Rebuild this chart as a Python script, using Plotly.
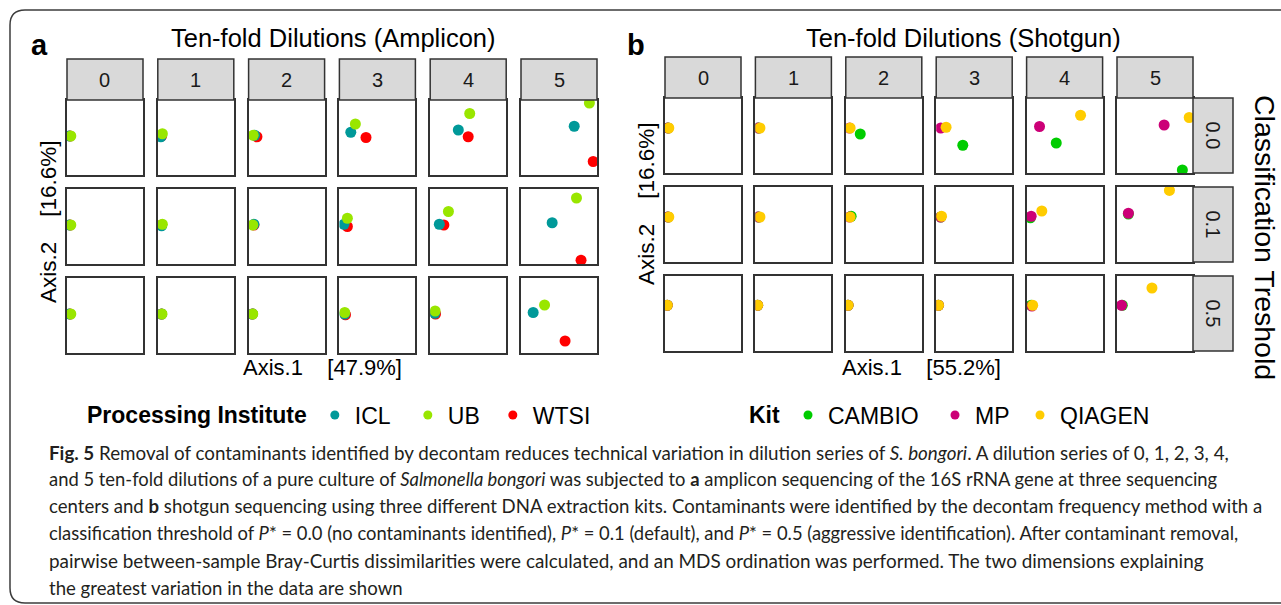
import plotly.graph_objects as go

W, H = 1281, 605

# ---------------- data (positions inside each panel, Axis.1 / Axis.2 scaled 0..1) ----------------
dilutions = ["0", "1", "2", "3", "4", "5"]
thresholds = ["0.0", "0.1", "0.5"]

institutes = ["ICL", "UB", "WTSI"]
kits = ["CAMBIO", "MP", "QIAGEN"]

# Amplicon (panel a): rows = threshold 0.0, 0.1, 0.5 ; cols = dilution 0..5
ICL_X = [[0.03, 0.04, 0.08, 0.15, 0.37, 0.70],
         [0.03, 0.05, 0.07, 0.06, 0.12, 0.41],
         [0.03, 0.05, 0.05, 0.07, 0.06, 0.16]]
ICL_Y = [[0.52, 0.51, 0.53, 0.57, 0.60, 0.65],
         [0.52, 0.51, 0.53, 0.53, 0.53, 0.55],
         [0.52, 0.52, 0.52, 0.52, 0.53, 0.54]]
UB_X = [[0.05, 0.06, 0.06, 0.21, 0.52, 0.90],
        [0.05, 0.06, 0.055, 0.105, 0.24, 0.73],
        [0.05, 0.055, 0.055, 0.07, 0.065, 0.31]]
UB_Y = [[0.52, 0.55, 0.53, 0.68, 0.82, 0.96],
        [0.52, 0.53, 0.52, 0.61, 0.70, 0.88],
        [0.52, 0.52, 0.52, 0.54, 0.56, 0.64]]
WTSI_X = [[0.04, 0.05, 0.11, 0.35, 0.50, 0.95],
          [0.04, 0.05, 0.07, 0.105, 0.18, 0.79],
          [0.04, 0.05, 0.05, 0.08, 0.07, 0.58]]
WTSI_Y = [[0.52, 0.52, 0.51, 0.50, 0.51, 0.18],
          [0.52, 0.52, 0.52, 0.50, 0.52, 0.05],
          [0.52, 0.52, 0.52, 0.51, 0.52, 0.16]]

# Shotgun (panel b)
CAMBIO_X = [[0.04, 0.04, 0.19, 0.35, 0.39, 0.86],
            [0.04, 0.04, 0.07, 0.06, 0.05, 0.15],
            [0.03, 0.03, 0.03, 0.03, 0.06, 0.07]]
CAMBIO_Y = [[0.60, 0.60, 0.52, 0.37, 0.40, 0.04],
            [0.60, 0.60, 0.61, 0.60, 0.59, 0.64],
            [0.61, 0.61, 0.61, 0.61, 0.61, 0.61]]
MP_X = [[0.04, 0.04, 0.05, 0.06, 0.17, 0.62],
        [0.04, 0.04, 0.05, 0.06, 0.06, 0.15],
        [0.03, 0.03, 0.03, 0.03, 0.07, 0.06]]
MP_Y = [[0.60, 0.60, 0.60, 0.60, 0.62, 0.64],
        [0.60, 0.60, 0.60, 0.60, 0.61, 0.65],
        [0.61, 0.61, 0.61, 0.61, 0.60, 0.61]]
QIAGEN_X = [[0.05, 0.06, 0.057, 0.13, 0.71, 0.95],
            [0.05, 0.06, 0.057, 0.07, 0.20, 0.69],
            [0.03, 0.03, 0.03, 0.03, 0.08, 0.46]]
QIAGEN_Y = [[0.60, 0.60, 0.60, 0.61, 0.77, 0.74],
            [0.60, 0.60, 0.60, 0.61, 0.68, 0.955],
            [0.61, 0.61, 0.61, 0.61, 0.61, 0.84]]

COLORS = {"ICL": "#009999", "UB": "#99E600", "WTSI": "#FF0000",
          "CAMBIO": "#00CC00", "MP": "#CC0077", "QIAGEN": "#FFCC00"}

# ---------------- layout geometry (pixels) ----------------
PANEL_W, PANEL_H = 76, 75
A_X0, A_DX = 67, 90.8
B_X0, B_DX = 665, 90.4
A_ROWS = [100, 189, 278]
B_ROWS = [98, 187, 276]
STRIP = 41

def px(x):
    return x / W

def py(y):
    return 1 - y / H

FONT = "Liberation Sans, Arial, sans-serif"
fig = go.Figure()
layout = dict(width=W, height=H, margin=dict(l=0, r=0, t=0, b=0),
              paper_bgcolor="white", plot_bgcolor="white", showlegend=True)
shapes, annotations = [], []

panels = [
    dict(x0=A_X0, dx=A_DX, rows=A_ROWS,
         series=[("WTSI", WTSI_X, WTSI_Y), ("ICL", ICL_X, ICL_Y), ("UB", UB_X, UB_Y)],
         right_strip=False),
    dict(x0=B_X0, dx=B_DX, rows=B_ROWS,
         series=[("CAMBIO", CAMBIO_X, CAMBIO_Y), ("MP", MP_X, MP_Y), ("QIAGEN", QIAGEN_X, QIAGEN_Y)],
         right_strip=True),
]

k = 0
for p in panels:
    for r in range(3):
        for c in range(6):
            k += 1
            xs = p["x0"] + c * p["dx"]
            ys = p["rows"][r]
            sfx = "" if k == 1 else str(k)
            axis_style = dict(range=[0, 1], showticklabels=False, showgrid=False,
                              zeroline=False, showline=True, mirror=True,
                              linecolor="#333333", linewidth=2, ticks="", fixedrange=True)
            layout["xaxis" + sfx] = dict(axis_style, domain=[px(xs), px(xs + PANEL_W)], anchor="y" + sfx)
            layout["yaxis" + sfx] = dict(axis_style, domain=[py(ys + PANEL_H), py(ys)], anchor="x" + sfx)
            for name, X, Y in p["series"]:
                fig.add_trace(go.Scatter(x=[X[r][c]], y=[Y[r][c]], mode="markers",
                                         xaxis="x" + sfx, yaxis="y" + sfx,
                                         marker=dict(size=11, color=COLORS[name], line=dict(width=0)),
                                         showlegend=False, hoverinfo="skip", cliponaxis=True))
            # top strips
            if r == 0:
                shapes.append(dict(type="rect", xref="paper", yref="paper",
                                   x0=px(xs), x1=px(xs + PANEL_W), y0=py(ys), y1=py(ys - STRIP),
                                   fillcolor="#D9D9D9", line=dict(color="#333333", width=1.5)))
                annotations.append(dict(text=dilutions[c], xref="paper", yref="paper",
                                        x=px(xs + PANEL_W / 2), y=py(ys - STRIP / 2),
                                        xanchor="center", yanchor="middle",
                                        showarrow=False, font=dict(family=FONT, size=20, color="#1A1A1A")))
            # right strips
            if p["right_strip"] and c == 5:
                shapes.append(dict(type="rect", xref="paper", yref="paper",
                                   x0=px(xs + PANEL_W), x1=px(xs + PANEL_W + STRIP - 1),
                                   y0=py(ys + PANEL_H), y1=py(ys),
                                   fillcolor="#D9D9D9", line=dict(color="#333333", width=1.5)))
                annotations.append(dict(text=thresholds[r], xref="paper", yref="paper",
                                        x=px(xs + PANEL_W + (STRIP - 1) / 2), y=py(ys + PANEL_H / 2),
                                        xanchor="center", yanchor="middle",
                                        textangle=90, showarrow=False,
                                        font=dict(family=FONT, size=20, color="#1A1A1A")))

# legend-only traces (legend entries, no data)
LEGEND_WIDTHS = {"ICL": 48, "UB": 40, "WTSI": 60, "CAMBIO": 102, "MP": 40, "QIAGEN": 100}
rank = 1
for lg, names in (("legend", institutes), ("legend2", kits)):
    for name in names:
        fig.add_trace(go.Scatter(x=[None], y=[None], mode="markers", name=name, legend=lg,
                                 marker=dict(size=9, color=COLORS[name]), showlegend=True,
                                 legendrank=rank, legendwidth=LEGEND_WIDTHS[name], hoverinfo="skip"))
        rank += 1

legend_common = dict(orientation="h", yanchor="middle", xanchor="left", bgcolor="rgba(0,0,0,0)",
                     font=dict(family=FONT, size=23, color="black"), itemsizing="trace",
                     traceorder="normal", itemclick=False)
layout["legend"] = dict(legend_common, x=px(85), y=py(415),
                        title=dict(text="<b>Processing Institute</b>", side="left",
                                   font=dict(family=FONT, size=23, color="black")))
layout["legend2"] = dict(legend_common, x=px(747), y=py(415),
                         title=dict(text="<b>Kit</b>", side="left",
                                    font=dict(family=FONT, size=23, color="black")))

# titles and labels
def ann(text, x, y, size, angle=0, bold=False, family=FONT, xanchor="center", color="black"):
    annotations.append(dict(text=("<b>%s</b>" % text) if bold else text, xref="paper", yref="paper",
                            x=px(x), y=py(y), xanchor=xanchor, yanchor="middle", textangle=angle,
                            showarrow=False, font=dict(family=family, size=size, color=color)))

NB = "\u00a0"
ann("a", 39, 45, 29, bold=True)
ann("b", 636, 45, 29, bold=True)
ann("Ten-fold Dilutions (Amplicon)", 333, 38, 25.5)
ann("Ten-fold Dilutions (Shotgun)", 964, 38, 25.5)
ann("Axis.1" + NB * 4 + "[47.9%]", 322, 368, 22)
ann("Axis.1" + NB * 4 + "[55.2%]", 921, 368, 22)
ann("Axis.2" + NB * 4 + "[16.6%]", 48, 222, 22.5, angle=-90)
ann("Axis.2" + NB * 4 + "[16.6%]", 646, 204, 22.5, angle=-90)
ann("Classification Treshold", 1265, 237, 28.5, angle=90)

# caption
CAP = "Lato, sans-serif"
caption_lines = [
    "<b>Fig. 5</b> Removal of contaminants identified by decontam reduces technical variation in dilution series of <i>S. bongori</i>. A dilution series of 0, 1, 2, 3, 4,",
    "and 5 ten-fold dilutions of a pure culture of <i>Salmonella bongori</i> was subjected to <b>a</b> amplicon sequencing of the 16S rRNA gene at three sequencing",
    "centers and <b>b</b> shotgun sequencing using three different DNA extraction kits. Contaminants were identified by the decontam frequency method with a",
    "classification threshold of <i>P</i>* = 0.0 (no contaminants identified), <i>P</i>* = 0.1 (default), and <i>P</i>* = 0.5 (aggressive identification). After contaminant removal,",
    "pairwise between-sample Bray-Curtis dissimilarities were calculated, and an MDS ordination was performed. The two dimensions explaining",
    "the greatest variation in the data are shown",
]
caption_sizes = [18.8, 18.4, 18.6, 18.4, 18.9, 18.6]
for i, line in enumerate(caption_lines):
    ann(line, 47, 452 + i * 27.1, caption_sizes[i], family=CAP, xanchor="left", color="#231F20")

# outer rounded frame
R = 15
path = ("M %f,%f L %f,%f Q %f,%f %f,%f L %f,%f Q %f,%f %f,%f L %f,%f" % (
    px(1300), py(10), px(10 + R), py(10), px(10), py(10), px(10), py(10 + R),
    px(10), py(603 - R), px(10), py(603), px(10 + R), py(603), px(1300), py(603)))
shapes.append(dict(type="path", xref="paper", yref="paper", path=path,
                   line=dict(color="#3C3C3C", width=1.5)))

layout["shapes"] = shapes
layout["annotations"] = annotations
fig.update_layout(**layout)
fig.write_html("out.html")
